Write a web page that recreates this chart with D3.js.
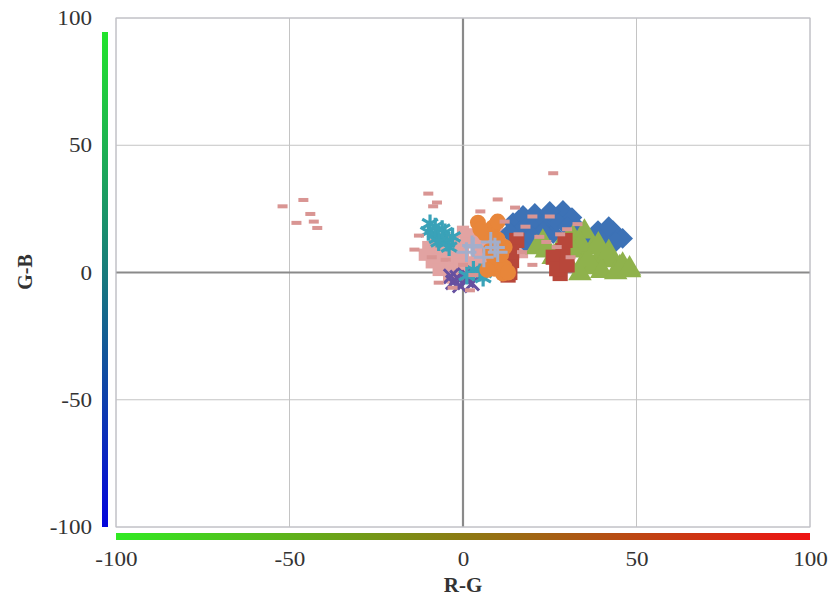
<!DOCTYPE html>
<html>
<head>
<meta charset="utf-8">
<script src="https://cdn.jsdelivr.net/npm/d3@7"></script>
<style>
  html, body { margin: 0; padding: 0; background: #fff; }
  svg { display: block; }
  text { font-family: "Liberation Serif", "Times New Roman", serif; fill: #333; }
</style>
</head>
<body>
<svg id="chart" width="835" height="601"></svg>
<script>
// Colour-difference coordinates (R-G vs G-B) of the measured samples, grouped by series
const diamondPts = [[14.4,19.6],[17.3,22.4],[20.7,23.2],[24.2,20.4],[28.8,24.4],[31.4,21.6],[32.9,17.7],[26,15.3],[16.4,16.5],[13.5,15.7],[38.9,16.5],[43.2,16.5],[46,13.4],[41.5,9.8],[37.5,12.6],[22,18],[19,19],[23,16],[27,20],[30,18],[40,13],[44,12],[42,18],[18,12],[25,24],[20,14]];
const squarePts = [[28,-0.4],[28.5,3.5],[28.8,8.6],[13.5,0],[14,4.7],[15.5,12.6],[29.4,12.6],[12,2.5],[26,6],[14,8],[27,1.5],[30,3],[13,-1]];
const trianglePts = [[21.3,9.8],[24,8.6],[31.7,13.8],[32.8,8.6],[34.6,3.5],[37.5,2],[39.5,6],[42.4,4.7],[45.2,2],[48,0.8],[33.7,-0.4],[37.5,9.8],[28,9.8],[35,16],[26,6],[30,4],[36,5],[40,0.5],[44,0],[46,3],[42,8],[34,11],[30,12],[23,12],[39,11],[48,1.5]];
const crossPts = [[-1.7,-2],[1.1,-3.1],[-0.9,-5.1],[2.6,-4.3],[-2.9,-3.9],[0.5,-1],[-3.5,-1.5]];
const asteriskPts = [[-9.5,19.2],[-8,15.3],[-5.2,15.7],[-4.6,11.8],[-7.5,13.4],[4.9,0],[1.1,-1.2],[5.8,-2],[-6,17],[-10,16],[-7,12],[-3,14],[-8,18],[3,1],[6,0],[-4,10]];
const circlePts = [[4.3,19.6],[8.6,17.7],[10.7,3.5],[11.5,-0.4],[7.8,8.6],[6.3,15.3],[9,1.5],[5,17],[10,20],[12,10],[10,13],[9,5],[12,2],[7,1],[13,0],[11,7]];
const plusPts = [[3,10],[8,12],[10,8],[6,6],[2.6,10.6],[9.2,9.8],[1,8]];
const blobPts = [[-8,8],[-6,4],[-4,2],[-2,6],[0,9],[2,4],[4,7],[6,2],[8,12],[10,15],[12,6],[-3,12],[1,14],[-6,10],[5,11],[7,5],[-1,0],[3,1],[9,9],[14,10],[15,16],[-10,10],[-5,7],[0,5],[-9,4],[-7,1],[-4,-1],[-1,3],[2,-1],[4,3],[6,9],[8,3],[-2,11],[1,12],[3,15],[-11,7],[-8,11],[11,11],[13,4],[16,12],[17,8],[-5,13],[0,16],[-3,-2]];
const dashPts = [[-52,26],[-46,28.5],[-44,23],[-48,19.5],[-43,20],[-42,17.5],[-10,31],[-8.6,26],[-7.5,27.5],[10,28.7],[15,25.5],[26,39],[-12.7,14.5],[-7,-4],[-14,9],[20,22],[25,22],[18,18],[22,14],[30,17],[27,10],[33,19],[12,20],[5,24],[-3,-6],[2,-7],[-5,5],[-9,6],[0,3],[3,-1],[24,12],[17,8],[31,6],[20,3],[28,15],[16,15]];

const xTicks = [-100, -50, 0, 50, 100];
const yTicks = [-100, -50, 0, 50, 100];
const xTitle = "R-G";
const yTitle = "G-B";

const svg = d3.select("#chart");
const x = d3.scaleLinear().domain([-100, 100]).range([116, 810]);
const y = d3.scaleLinear().domain([-100, 100]).range([527, 18]);

// gradients for the colour-direction bars
const defs = svg.append("defs");
const gV = defs.append("linearGradient").attr("id", "gv").attr("x1", 0).attr("y1", 0).attr("x2", 0).attr("y2", 1);
gV.append("stop").attr("offset", 0).attr("stop-color", "#22e42c");
gV.append("stop").attr("offset", 0.5).attr("stop-color", "#18787e");
gV.append("stop").attr("offset", 1).attr("stop-color", "#0404dc");
const gH = defs.append("linearGradient").attr("id", "gh").attr("x1", 0).attr("y1", 0).attr("x2", 1).attr("y2", 0);
gH.append("stop").attr("offset", 0).attr("stop-color", "#30ea22");
gH.append("stop").attr("offset", 0.5).attr("stop-color", "#8c7a12");
gH.append("stop").attr("offset", 1).attr("stop-color", "#ee1212");

// grid
const grid = svg.append("g");
grid.selectAll("line.gx").data(xTicks).join("line")
  .attr("x1", d => x(d)).attr("x2", d => x(d)).attr("y1", y(100)).attr("y2", y(-100))
  .attr("stroke", d => d === 0 ? "#8a8a8a" : "#c4c4c4").attr("stroke-width", d => d === 0 ? 2.2 : 1);
grid.selectAll("line.gy").data(yTicks).join("line")
  .attr("y1", d => y(d)).attr("y2", d => y(d)).attr("x1", x(-100)).attr("x2", x(100))
  .attr("stroke", d => d === 0 ? "#8a8a8a" : "#c4c4c4").attr("stroke-width", d => d === 0 ? 2.2 : 1);

// colour bars
svg.append("rect").attr("x", 102).attr("y", 32).attr("width", 6).attr("height", y(-100) - 32)
  .attr("fill", "url(#gv)");
svg.append("rect").attr("x", x(-100)).attr("y", 533).attr("width", x(100) - x(-100)).attr("height", 7)
  .attr("fill", "url(#gh)");

// axes (plain hyphen for negative numbers)
const fmt = d => String(d);
const stretch = sel => sel.each(function () {
  const w = this.getComputedTextLength();
  d3.select(this).attr("textLength", w * 1.1).attr("lengthAdjust", "spacingAndGlyphs");
});
const xAxis = svg.append("g").attr("transform", `translate(0,${y(-100)})`)
  .call(d3.axisBottom(x).tickValues(xTicks).tickFormat(fmt).tickSize(0).tickPadding(24));
xAxis.select(".domain").remove();
xAxis.selectAll("text").attr("font-size", 21).attr("fill", "#333")
  .style("font-family", '"Liberation Serif", serif').call(stretch);
const yAxis = svg.append("g").attr("transform", `translate(92,0)`)
  .call(d3.axisLeft(y).tickValues(yTicks).tickFormat(fmt).tickSize(0).tickPadding(0));
yAxis.select(".domain").remove();
yAxis.selectAll("text").attr("font-size", 21).attr("fill", "#333")
  .style("font-family", '"Liberation Serif", serif').call(stretch);

svg.append("text").attr("x", 463).attr("y", 592).attr("text-anchor", "middle")
  .attr("font-size", 21).attr("font-weight", "bold").text(xTitle);
svg.append("text").attr("transform", "translate(32,272) rotate(-90)").attr("text-anchor", "middle")
  .attr("font-size", 20).attr("font-weight", "bold").text(yTitle);

// series markers
const plot = svg.append("g");
function filled(data, type, size, color, rot) {
  plot.append("g").selectAll("path").data(data).join("path")
    .attr("d", d3.symbol().type(type).size(size))
    .attr("transform", d => `translate(${x(d[0])},${y(d[1])})` + (rot ? ` rotate(${rot})` : ""))
    .attr("fill", color);
}
function stroked(data, type, size, color, w) {
  plot.append("g").selectAll("path").data(data).join("path")
    .attr("d", d3.symbol().type(type).size(size))
    .attr("transform", d => `translate(${x(d[0])},${y(d[1])})`)
    .attr("fill", "none").attr("stroke", color).attr("stroke-width", w);
}
filled(blobPts, d3.symbolSquare, 150, "#e2a3a2");
filled(diamondPts, d3.symbolSquare, 215, "#3d72b6", 45);
filled(trianglePts, d3.symbolTriangle, 240, "#8fb24c");
filled(squarePts, d3.symbolSquare, 230, "#b8473a");
stroked(crossPts, d3.symbolTimes, 130, "#6650a0", 3);
stroked(asteriskPts, d3.symbolAsterisk, 230, "#3aa2b8", 3.2);
filled(circlePts, d3.symbolCircle, 200, "#e8863a");
stroked(plusPts, d3.symbolPlus, 130, "#a3aecb", 3);
plot.append("g").selectAll("rect").data(dashPts).join("rect")
  .attr("x", d => x(d[0]) - 5).attr("y", d => y(d[1]) - 2)
  .attr("width", 10).attr("height", 4).attr("fill", "#d99593");

// plot frame
svg.append("rect").attr("x", x(-100)).attr("y", y(100)).attr("width", x(100) - x(-100)).attr("height", y(-100) - y(100))
  .attr("fill", "none").attr("stroke", "#c0c0c8").attr("stroke-width", 1);
</script>
</body>
</html>
